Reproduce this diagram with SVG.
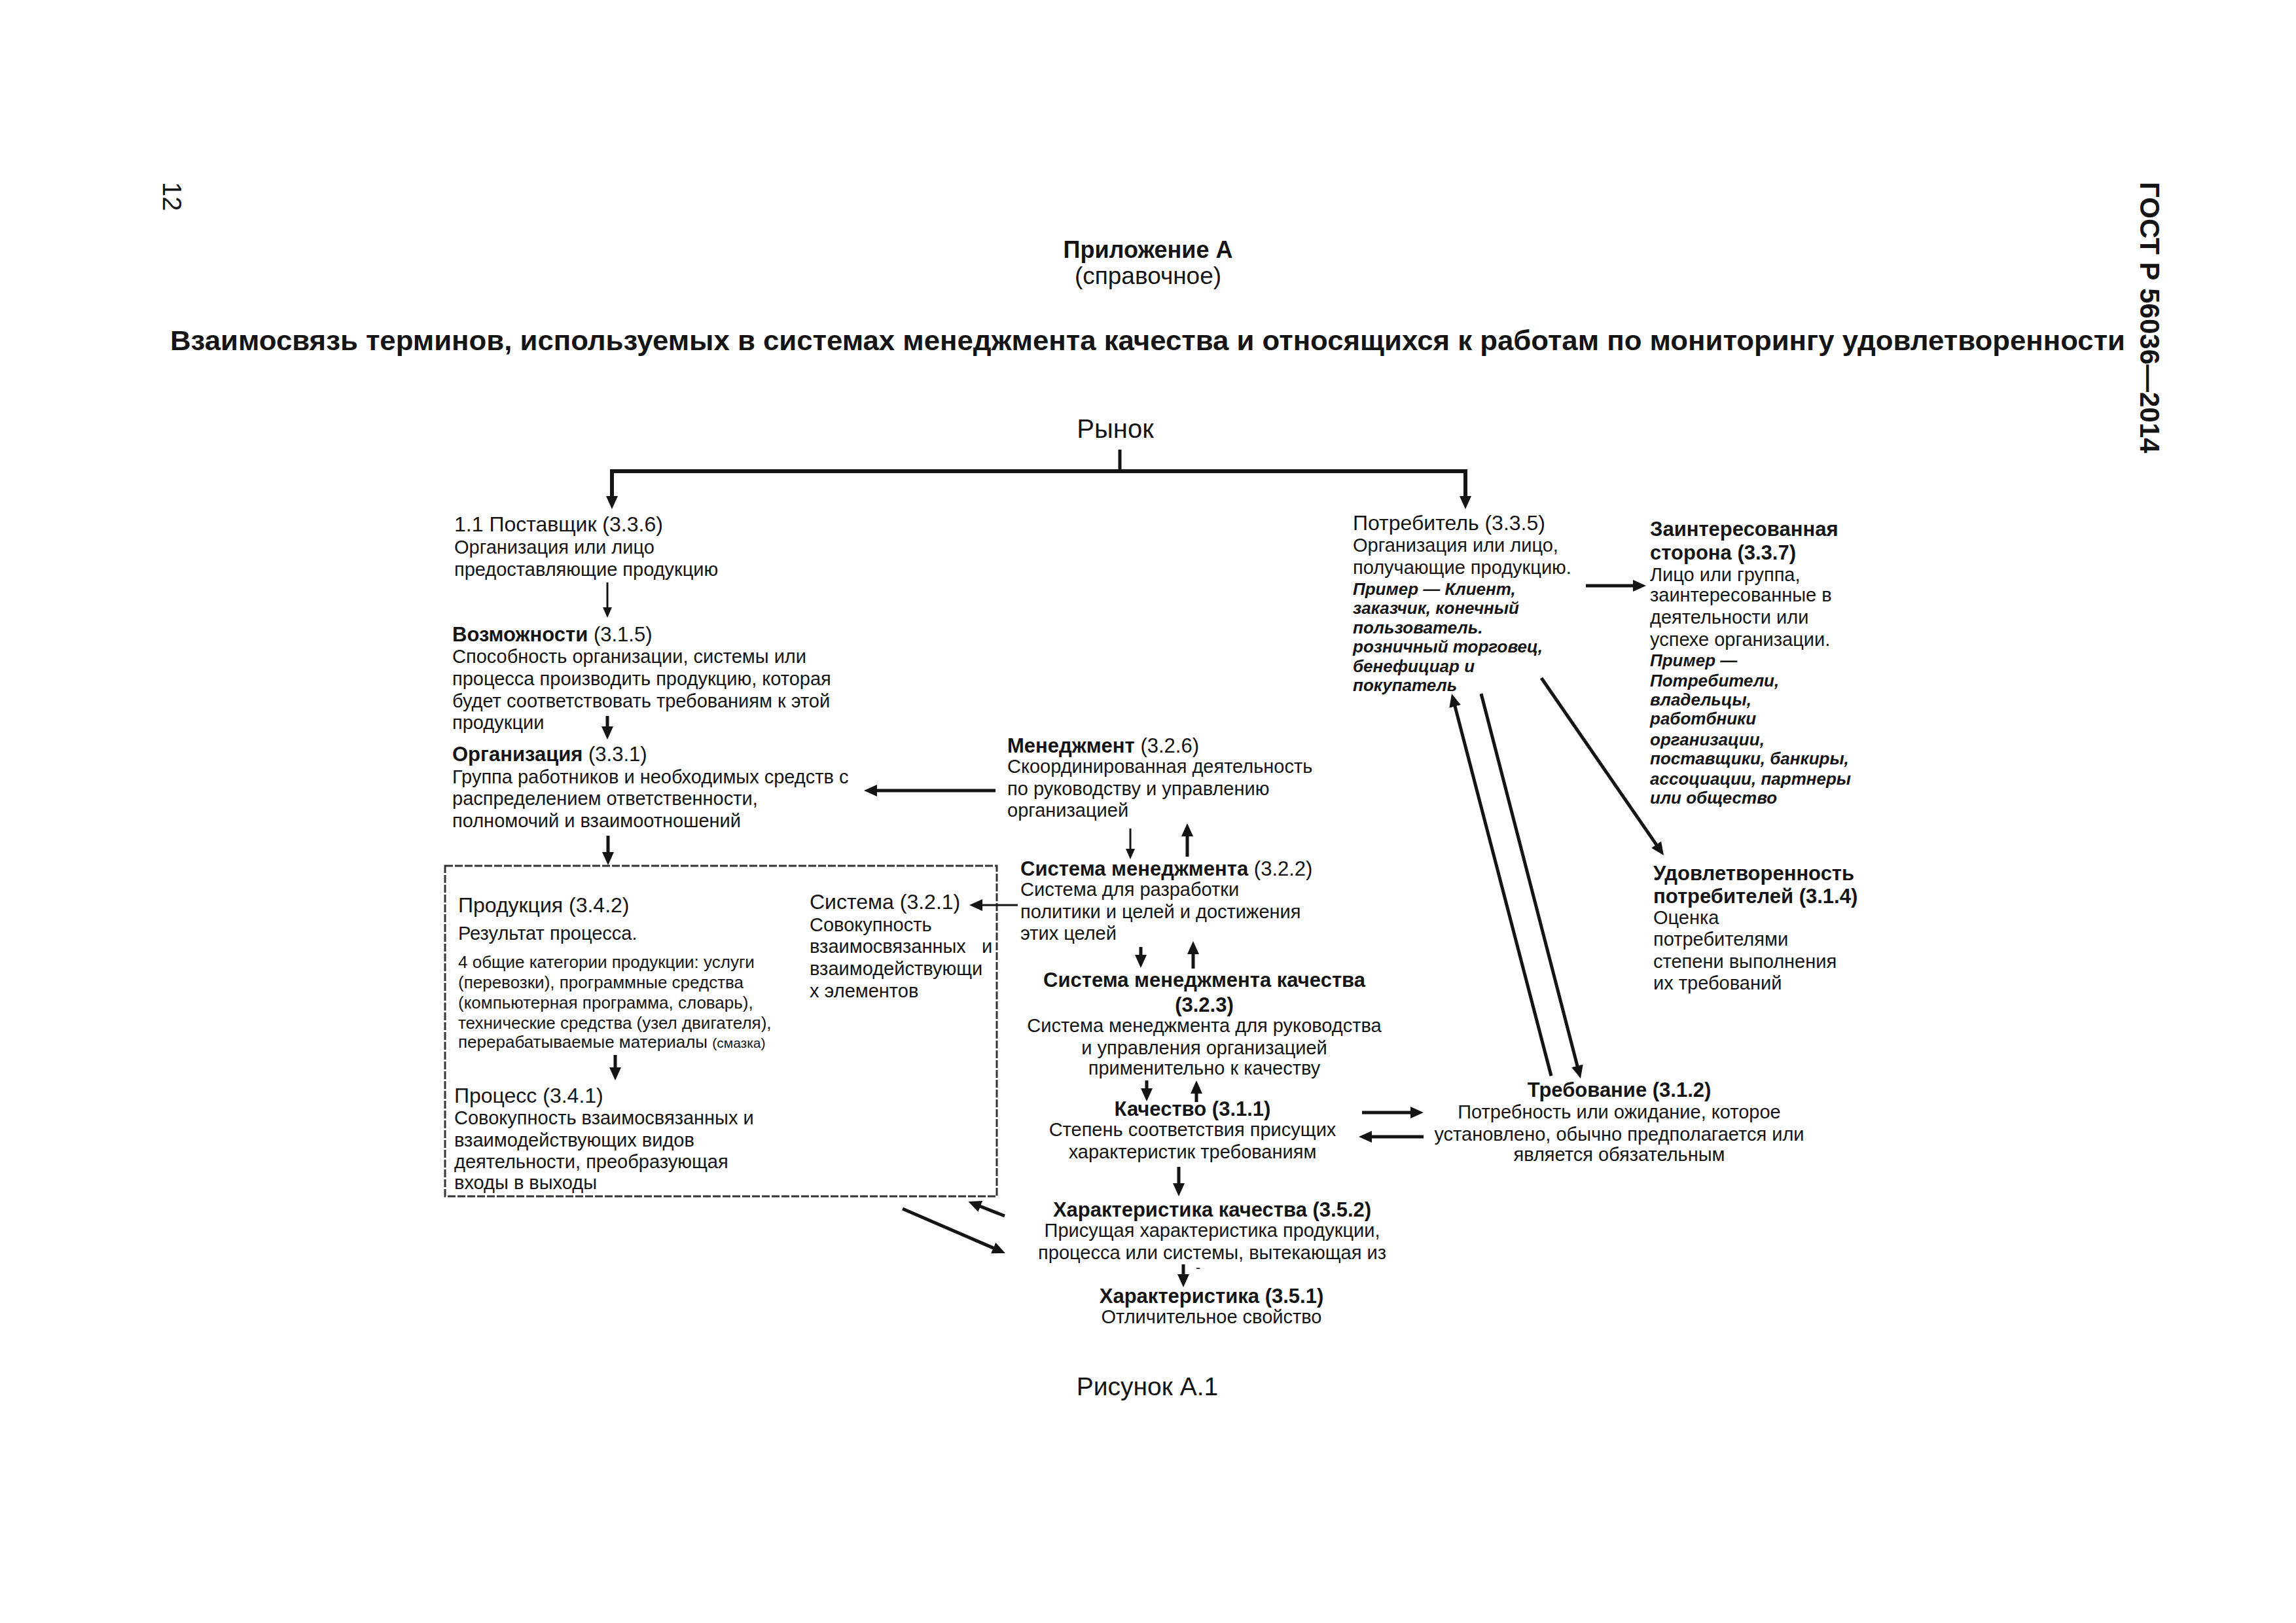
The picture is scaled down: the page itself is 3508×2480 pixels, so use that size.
<svg xmlns="http://www.w3.org/2000/svg" width="3508" height="2480" viewBox="0 0 3508 2480">
<defs>
<style>
text { font-family: 'Liberation Sans', Arial, sans-serif; fill: #141414; }
.h { font-size: 31px; font-weight: bold; }
.hr { font-size: 32px; }
.b { font-size: 29px; }
.s { font-size: 26px; }
.xs { font-size: 21px; }
.i { font-size: 26px; font-style: italic; font-weight: bold; }
.c { text-anchor: middle; }
.n { font-weight: normal; }
.ln { stroke: #141414; stroke-width: 5; fill: none; }
.lt { stroke: #141414; stroke-width: 3; fill: none; }
.lw { stroke: #141414; stroke-width: 6; fill: none; }
.box { stroke: #333; stroke-width: 3; fill: none; stroke-dasharray: 12 3; }
</style>
<marker id="ah" markerUnits="userSpaceOnUse" viewBox="0 0 20 18" refX="1" refY="9" markerWidth="20" markerHeight="18" orient="auto"><path d="M0,0 L20,9 L0,18 z" fill="#141414"/></marker>
<marker id="as" markerUnits="userSpaceOnUse" viewBox="0 0 16 14" refX="1" refY="7" markerWidth="16" markerHeight="14" orient="auto"><path d="M0,0 L16,7 L0,14 z" fill="#141414"/></marker>
</defs>
<rect width="3508" height="2480" fill="#ffffff"/>

<g id="page-header">
<text transform="translate(249,278) rotate(90)" style="font-size:40px">12</text>
<text transform="translate(3270,278) rotate(90)" style="font-size:42px;font-weight:bold">ГОСТ Р 56036—2014</text>
<text x="1754" y="394" class="c" style="font-size:36px;font-weight:bold">Приложение А</text>
<text x="1754" y="434" class="c" style="font-size:37px">(справочное)</text>
<text x="260" y="535" style="font-size:42px;font-weight:bold" textLength="2987" lengthAdjust="spacingAndGlyphs">Взаимосвязь терминов, используемых в системах менеджмента качества и относящихся к работам по мониторингу удовлетворенности</text>
<text x="1753" y="2132" class="c" style="font-size:39px">Рисунок А.1</text>
</g>

<g id="market">
<text x="1704" y="669" class="c" style="font-size:40px">Рынок</text>
</g>

<g id="supplier">
<text x="694" y="812" class="hr">1.1 Поставщик (3.3.6)</text>
<text x="694" y="846" class="b">Организация или лицо</text>
<text x="694" y="880" class="b">предоставляющие продукцию</text>
</g>

<g id="capability">
<text x="691" y="980" class="h">Возможности <tspan class="n">(3.1.5)</tspan></text>
<text x="691" y="1013" class="b">Способность организации, системы или</text>
<text x="691" y="1047" class="b">процесса производить продукцию, которая</text>
<text x="691" y="1081" class="b">будет соответствовать требованиям к этой</text>
<text x="691" y="1114" class="b">продукции</text>
</g>

<g id="organization">
<text x="691" y="1163" class="h">Организация <tspan class="n">(3.3.1)</tspan></text>
<text x="691" y="1197" class="b">Группа работников и необходимых средств с</text>
<text x="691" y="1230" class="b">распределением ответственности,</text>
<text x="691" y="1264" class="b">полномочий и взаимоотношений</text>
</g>

<g id="management">
<text x="1539" y="1150" class="h">Менеджмент <tspan class="n">(3.2.6)</tspan></text>
<text x="1539" y="1181" class="b">Скоординированная деятельность</text>
<text x="1539" y="1215" class="b">по руководству и управлению</text>
<text x="1539" y="1248" class="b">организацией</text>
</g>

<g id="management-system">
<text x="1559" y="1338" class="h">Система менеджмента <tspan class="n">(3.2.2)</tspan></text>
<text x="1559" y="1369" class="b">Система для разработки</text>
<text x="1559" y="1403" class="b">политики и целей и достижения</text>
<text x="1559" y="1436" class="b">этих целей</text>
</g>

<g id="qms">
<text x="1840" y="1508" class="h c">Система менеджмента качества</text>
<text x="1840" y="1546" class="h c">(3.2.3)</text>
<text x="1840" y="1577" class="b c">Система менеджмента для руководства</text>
<text x="1840" y="1611" class="b c">и управления организацией</text>
<text x="1840" y="1642" class="b c">применительно к качеству</text>
</g>

<g id="quality">
<text x="1822" y="1705" class="h c">Качество (3.1.1)</text>
<text x="1822" y="1736" class="b c">Степень соответствия присущих</text>
<text x="1822" y="1770" class="b c">характеристик требованиям</text>
</g>

<g id="quality-characteristic">
<text x="1852" y="1859" class="h c">Характеристика качества (3.5.2)</text>
<text x="1852" y="1890" class="b c">Присущая характеристика продукции,</text>
<text x="1852" y="1924" class="b c">процесса или системы, вытекающая из</text>
<text x="1827" y="1944" class="xs">-</text>
</g>

<g id="characteristic">
<text x="1851" y="1991" class="h c">Характеристика (3.5.1)</text>
<text x="1851" y="2022" class="b c">Отличительное свойство</text>
</g>

<g id="product-process-system">
<rect class="box" x="680" y="1323" width="843" height="505"/>
<g id="product">
<text x="700" y="1394" class="hr">Продукция (3.4.2)</text>
<text x="700" y="1436" class="b">Результат процесса.</text>
<text x="700" y="1479" class="s">4 общие категории продукции: услуги</text>
<text x="700" y="1510" class="s">(перевозки), программные средства</text>
<text x="700" y="1541" class="s">(компьютерная программа, словарь),</text>
<text x="700" y="1572" class="s">технические средства (узел двигателя),</text>
<text x="700" y="1601" class="s">перерабатываемые материалы <tspan class="xs">(смазка)</tspan></text>
</g>
<g id="process">
<text x="694" y="1685" class="hr">Процесс (3.4.1)</text>
<text x="694" y="1718" class="b">Совокупность взаимосвязанных и</text>
<text x="694" y="1752" class="b">взаимодействующих видов</text>
<text x="694" y="1785" class="b">деятельности, преобразующая</text>
<text x="694" y="1817" class="b">входы в выходы</text>
</g>
<g id="system">
<text x="1237" y="1389" class="hr">Система (3.2.1)</text>
<text x="1237" y="1423" class="b">Совокупность</text>
<text x="1237" y="1456" class="b" xml:space="preserve">взаимосвязанных   и</text>
<text x="1237" y="1490" class="b">взаимодействующи</text>
<text x="1237" y="1524" class="b">х элементов</text>
</g>
</g>

<g id="customer">
<text x="2067" y="810" class="hr">Потребитель (3.3.5)</text>
<text x="2067" y="843" class="b">Организация или лицо,</text>
<text x="2067" y="877" class="b">получающие продукцию.</text>
<text x="2067" y="909" class="i">Пример — Клиент,</text>
<text x="2067" y="938" class="i">заказчик, конечный</text>
<text x="2067" y="968" class="i">пользователь.</text>
<text x="2067" y="997" class="i">розничный торговец,</text>
<text x="2067" y="1027" class="i">бенефициар и</text>
<text x="2067" y="1056" class="i">покупатель</text>
</g>

<g id="interested-party">
<text x="2521" y="819" class="h">Заинтересованная</text>
<text x="2521" y="855" class="h">сторона (3.3.7)</text>
<text x="2521" y="888" class="b">Лицо или группа,</text>
<text x="2521" y="919" class="b">заинтересованные в</text>
<text x="2521" y="953" class="b">деятельности или</text>
<text x="2521" y="987" class="b">успехе организации.</text>
<text x="2521" y="1018" class="i">Пример —</text>
<text x="2521" y="1049" class="i">Потребители,</text>
<text x="2521" y="1078" class="i">владельцы,</text>
<text x="2521" y="1107" class="i">работбники</text>
<text x="2521" y="1139" class="i">организации,</text>
<text x="2521" y="1168" class="i">поставщики, банкиры,</text>
<text x="2521" y="1199" class="i">ассоциации, партнеры</text>
<text x="2521" y="1228" class="i">или общество</text>
</g>

<g id="customer-satisfaction">
<text x="2526" y="1345" class="h">Удовлетворенность</text>
<text x="2526" y="1380" class="h">потребителей (3.1.4)</text>
<text x="2526" y="1412" class="b">Оценка</text>
<text x="2526" y="1445" class="b">потребителями</text>
<text x="2526" y="1479" class="b">степени выполнения</text>
<text x="2526" y="1512" class="b">их требований</text>
</g>

<g id="requirement">
<text x="2474" y="1676" class="h c">Требование (3.1.2)</text>
<text x="2474" y="1709" class="b c">Потребность или ожидание, которое</text>
<text x="2474" y="1743" class="b c">установлено, обычно предполагается или</text>
<text x="2474" y="1774" class="b c">является обязательным</text>
</g>

<g id="connectors">
<line class="ln" x1="1711" y1="687" x2="1711" y2="720"/>
<line class="lw" x1="932" y1="720" x2="2242" y2="720"/>
<line class="lw" x1="935" y1="720" x2="935" y2="759" marker-end="url(#ah)"/>
<line class="lw" x1="2239" y1="720" x2="2239" y2="759" marker-end="url(#ah)"/>
<line class="lt" x1="928" y1="890" x2="928" y2="929" marker-end="url(#as)"/>
<line class="ln" x1="928" y1="1094" x2="928" y2="1111" marker-end="url(#ah)"/>
<line class="ln" x1="929" y1="1277" x2="929" y2="1303" marker-end="url(#ah)"/>
<line class="ln" x1="1521" y1="1208" x2="1339" y2="1208" marker-end="url(#ah)"/>
<line class="lt" x1="1727" y1="1266" x2="1727" y2="1298" marker-end="url(#as)"/>
<line class="ln" x1="1814" y1="1309" x2="1814" y2="1277" marker-end="url(#ah)"/>
<line class="lt" x1="1555" y1="1383" x2="1500" y2="1383" marker-end="url(#ah)"/>
<line class="ln" x1="1743" y1="1447" x2="1743" y2="1460" marker-end="url(#ah)"/>
<line class="ln" x1="1823" y1="1480" x2="1823" y2="1457" marker-end="url(#ah)"/>
<line class="ln" x1="1752" y1="1651" x2="1752" y2="1664" marker-end="url(#ah)"/>
<line class="ln" x1="1828" y1="1684" x2="1828" y2="1670" marker-end="url(#ah)"/>
<line class="ln" x1="2081" y1="1700" x2="2156" y2="1700" marker-end="url(#ah)"/>
<line class="ln" x1="2175" y1="1737" x2="2095" y2="1737" marker-end="url(#ah)"/>
<line class="ln" x1="1801" y1="1783" x2="1801" y2="1809" marker-end="url(#ah)"/>
<line class="ln" x1="1808" y1="1932" x2="1808" y2="1948" marker-end="url(#ah)"/>
<line class="ln" x1="1535" y1="1858" x2="1497" y2="1843" marker-end="url(#ah)"/>
<line class="ln" x1="1379" y1="1847" x2="1518.6" y2="1907.4" marker-end="url(#ah)"/>
<line class="ln" x1="940" y1="1612" x2="940" y2="1632" marker-end="url(#ah)"/>
<line class="ln" x1="2423" y1="895" x2="2496" y2="895" marker-end="url(#ah)"/>
<line class="ln" x1="2370" y1="1644" x2="2222.8" y2="1078.4" marker-end="url(#ah)"/>
<line class="ln" x1="2263" y1="1060" x2="2410.2" y2="1629.6" marker-end="url(#ah)"/>
<line class="ln" x1="2355" y1="1036" x2="2531.2" y2="1291.4" marker-end="url(#ah)"/>
</g>
</svg>
